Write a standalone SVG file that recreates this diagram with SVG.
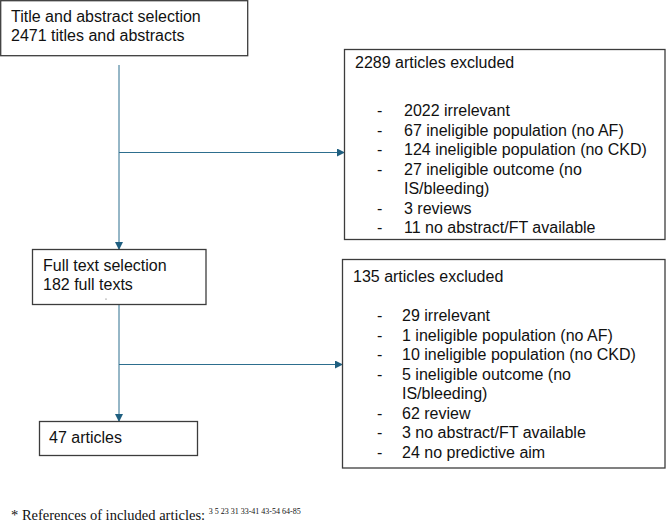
<svg xmlns="http://www.w3.org/2000/svg" width="667" height="526" viewBox="0 0 667 526">
<style>
.box{fill:#ffffff;stroke:#3c3c3c;stroke-width:1.3}
.t{font-family:"Liberation Sans",Arial,sans-serif;font-size:16px;fill:#111111}
.c{fill:none;stroke:#2d6e8e;stroke-width:1}
.fn{font-family:"Liberation Serif","Times New Roman",serif;font-size:14.5px;fill:#111111}
.sup{font-family:"Liberation Serif","Times New Roman",serif;font-size:8px;fill:#111111}
</style>
<defs>
<marker id="ah" markerWidth="8" markerHeight="8" refX="7" refY="4" orient="auto" markerUnits="userSpaceOnUse">
<path d="M0,0 L8,4 L0,8 Z" fill="#1f5f80"/>
</marker>
</defs>
<rect width="667" height="526" fill="#ffffff"/>
<g id="connectors">
<line class="c" x1="119" y1="65" x2="119" y2="249" marker-end="url(#ah)" stroke="#7fa7c0"/>
<line class="c" x1="119" y1="152.5" x2="344" y2="152.5" marker-end="url(#ah)"/>
<line class="c" x1="119" y1="304" x2="119" y2="421" marker-end="url(#ah)" stroke="#5f8eab"/>
<line class="c" x1="119" y1="364.5" x2="342" y2="364.5" marker-end="url(#ah)"/>
</g>
<g id="title-selection">
<rect class="box" x="0.7" y="0.7" width="247" height="55"/>
<text class="t" x="11" y="22">Title and abstract selection</text>
<text class="t" x="11" y="41">2471 titles and abstracts</text>
</g>
<g id="excluded-1">
<rect class="box" x="344.5" y="49.5" width="320.5" height="190"/>
<text class="t" x="355" y="68">2289 articles excluded</text>
<g>
<text class="t" x="377" y="116">-</text><text class="t" x="404" y="116">2022 irrelevant</text>
<text class="t" x="377" y="135.5">-</text><text class="t" x="404" y="135.5">67 ineligible population (no AF)</text>
<text class="t" x="377" y="155">-</text><text class="t" x="404" y="155">124 ineligible population (no CKD)</text>
<text class="t" x="377" y="174.5">-</text><text class="t" x="404" y="174.5">27 ineligible outcome (no</text>
<text class="t" x="404" y="194">IS/bleeding)</text>
<text class="t" x="377" y="213.5">-</text><text class="t" x="404" y="213.5">3 reviews</text>
<text class="t" x="377" y="233">-</text><text class="t" x="404" y="233">11 no abstract/FT available</text>
</g>
</g>
<g id="full-text-selection">
<rect class="box" x="32.5" y="249.5" width="173.5" height="55"/>
<text class="t" x="43" y="271">Full text selection</text>
<text class="t" x="43" y="290">182 full texts</text>
<circle cx="106" cy="299" r="0.6" fill="#555555"/>
</g>
<g id="excluded-2">
<rect class="box" x="342.5" y="259.5" width="322.5" height="208.5"/>
<text class="t" x="353" y="282">135 articles excluded</text>
<text class="t" x="377" y="321">-</text><text class="t" x="402" y="321">29 irrelevant</text>
<text class="t" x="377" y="340.5">-</text><text class="t" x="402" y="340.5">1 ineligible population (no AF)</text>
<text class="t" x="377" y="360">-</text><text class="t" x="402" y="360">10 ineligible population (no CKD)</text>
<text class="t" x="377" y="379.5">-</text><text class="t" x="402" y="379.5">5 ineligible outcome (no</text>
<text class="t" x="402" y="399">IS/bleeding)</text>
<text class="t" x="377" y="418.5">-</text><text class="t" x="402" y="418.5">62 review</text>
<text class="t" x="377" y="438">-</text><text class="t" x="402" y="438">3 no abstract/FT available</text>
<text class="t" x="377" y="457.5">-</text><text class="t" x="402" y="457.5">24 no predictive aim</text>
</g>
<g id="included">
<rect class="box" x="39.5" y="421.5" width="158" height="34"/>
<text class="t" x="49" y="443">47 articles</text>
</g>
<g id="footnote">
<text class="fn" x="11" y="520">* References of included articles: <tspan class="sup" dy="-6">3 5 23 31 33-41 43-54 64-85</tspan></text>
</g>
</svg>
